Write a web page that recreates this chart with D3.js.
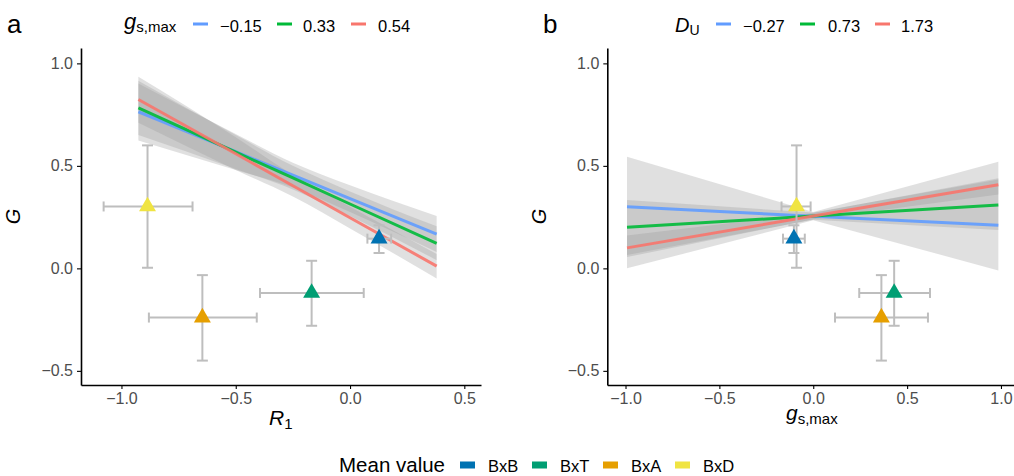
<!DOCTYPE html>
<html lang="en">
<head>
    <meta charset="UTF-8">
    <title>G vs R1 and gs,max</title>
    <script src="https://d3js.org/d3.v7.min.js"></script>
    <style>
        body {
            margin: 0;
            background: white;
            font-family: "Liberation Sans", Arial, Helvetica, sans-serif;
        }
    </style>
</head>
<body>
<div id="chart"></div>
<script>
    // Fitted lines (panel a: G vs R1 for three gs,max levels)
    const aLevels = ["\u22120.15", "0.33", "0.54"];
    const aGrid = [-0.926, -0.5, -0.25, 0, 0.379];
    const aFit = [
        [0.764, 0.569, 0.455, 0.340, 0.167],
        [0.783, 0.567, 0.441, 0.314, 0.122],
        [0.824, 0.559, 0.403, 0.247, 0.011]
    ];
    const aLo = [
        [0.624, 0.480, 0.395, 0.275, 0.080],
        [0.650, 0.485, 0.385, 0.255, 0.040],
        [0.710, 0.480, 0.350, 0.195, -0.049]
    ];
    const aHi = [
        [0.902, 0.655, 0.515, 0.405, 0.255],
        [0.915, 0.650, 0.500, 0.375, 0.205],
        [0.935, 0.640, 0.455, 0.300, 0.070]
    ];

    // Fitted lines (panel b: G vs gs,max for three DU levels)
    const bLevels = ["\u22120.27", "0.73", "1.73"];
    const bGrid = [-0.992, 0, 0.986];
    const bFit = [
        [0.300, 0.254, 0.210],
        [0.200, 0.255, 0.309],
        [0.100, 0.255, 0.408]
    ];
    const bLo = [
        [0.000, 0.235, -0.010],
        [0.065, 0.237, 0.187],
        [0.055, 0.240, 0.360]
    ];
    const bHi = [
        [0.545, 0.275, 0.520],
        [0.333, 0.272, 0.434],
        [0.160, 0.270, 0.440]
    ];

    const lineColors = ["#619CFF", "#00BA38", "#F8766D"];

    // Mean values per cross
    const crosses = ["BxB", "BxT", "BxA", "BxD"];
    const crossColors = ["#0072B2", "#009E73", "#E69F00", "#F0E442"];
    const meanG = [0.145, -0.12, -0.24, 0.302];
    const gLo = [0.075, -0.28, -0.45, 0.003];
    const gHi = [0.21, 0.037, -0.033, 0.6];
    const meanR1 = [0.127, -0.168, -0.646, -0.886];
    const r1Lo = [0.076, -0.394, -0.88, -1.078];
    const r1Hi = [0.18, 0.06, -0.408, -0.689];
    const meanGs = [-0.103, 0.431, 0.363, -0.089];
    const gsLo = [-0.161, 0.245, 0.116, -0.169];
    const gsHi = [-0.045, 0.622, 0.611, -0.014];

    const yTicks = [-0.5, 0, 0.5, 1.0];

    const svg = d3.select("#chart")
        .append("svg")
        .attr("width", 1014)
        .attr("height", 476)
        .style("font-family", "'Liberation Sans', Arial, Helvetica, sans-serif");

    const plotTop = 48, plotBottom = 385;
    const y = d3.scaleLinear().domain([-0.569, 1.075]).range([plotBottom, plotTop]);

    function drawPanel(opts) {
        const x = d3.scaleLinear().domain(opts.xDomain).range(opts.xRange);
        const g = svg.append("g");

        // confidence bands
        opts.fit.forEach((fit, i) => {
            const pts = opts.grid.map((gx, j) => ({ x: gx, lo: opts.lo[i][j], hi: opts.hi[i][j] }));
            g.append("path")
                .datum(pts)
                .attr("d", d3.area().curve(opts.curve).x(d => x(d.x)).y0(d => y(d.lo)).y1(d => y(d.hi)))
                .attr("fill", "#999999")
                .attr("fill-opacity", 0.3);
        });

        // fitted lines
        opts.fit.forEach((fit, i) => {
            g.append("path")
                .datum(opts.grid.map((gx, j) => [gx, fit[j]]))
                .attr("d", d3.line().x(d => x(d[0])).y(d => y(d[1])))
                .attr("fill", "none")
                .attr("stroke", lineColors[i])
                .attr("stroke-width", 3)
                .attr("stroke-opacity", 0.9);
        });

        // error bars
        const eb = g.append("g").attr("stroke", "#bebebe").attr("stroke-width", 2).attr("fill", "none");
        crosses.forEach((c, i) => {
            const cx = x(opts.mx[i]), cy = y(meanG[i]);
            eb.append("line").attr("x1", cx).attr("x2", cx).attr("y1", y(gLo[i])).attr("y2", y(gHi[i]));
            eb.append("line").attr("x1", cx - 5.5).attr("x2", cx + 5.5).attr("y1", y(gLo[i])).attr("y2", y(gLo[i]));
            eb.append("line").attr("x1", cx - 5.5).attr("x2", cx + 5.5).attr("y1", y(gHi[i])).attr("y2", y(gHi[i]));
            eb.append("line").attr("x1", x(opts.xLo[i])).attr("x2", x(opts.xHi[i])).attr("y1", cy).attr("y2", cy);
            eb.append("line").attr("x1", x(opts.xLo[i])).attr("x2", x(opts.xLo[i])).attr("y1", cy - 5).attr("y2", cy + 5);
            eb.append("line").attr("x1", x(opts.xHi[i])).attr("x2", x(opts.xHi[i])).attr("y1", cy - 5).attr("y2", cy + 5);
        });

        // mean points
        g.selectAll(".pt")
            .data(crosses)
            .enter()
            .append("path")
            .attr("d", d3.symbol(d3.symbolTriangle).size(125))
            .attr("transform", (d, i) => `translate(${x(opts.mx[i])},${y(meanG[i])})`)
            .attr("fill", (d, i) => crossColors[i]);

        // axes
        const xAxis = g.append("g")
            .attr("transform", `translate(0,${plotBottom})`)
            .call(d3.axisBottom(x).tickValues(opts.xTicks).tickFormat(d3.format(".1f")).tickSize(4).tickSizeOuter(0).tickPadding(4));
        const yAxis = g.append("g")
            .attr("transform", `translate(${opts.xRange[0]},0)`)
            .call(d3.axisLeft(y).tickValues(yTicks).tickFormat(d3.format(".1f")).tickSize(4).tickSizeOuter(0).tickPadding(4));
        [xAxis, yAxis].forEach(ax => {
            ax.select(".domain").attr("stroke", "black").attr("stroke-width", 1.6);
            ax.selectAll(".tick line").attr("stroke", "black").attr("stroke-width", 1.1);
            ax.selectAll(".tick text").attr("font-size", 16).attr("fill", "#4d4d4d").attr("font-family", null);
        });

        // y title
        g.append("text")
            .attr("transform", `translate(${opts.xRange[0] - 61},${(plotTop + plotBottom) / 2}) rotate(-90)`)
            .attr("text-anchor", "middle")
            .attr("font-size", 20)
            .attr("font-style", "italic")
            .text("G");

        // panel letter
        g.append("text")
            .attr("x", opts.letterX)
            .attr("y", 33)
            .attr("font-size", 26)
            .text(opts.letter);

        return x;
    }

    drawPanel({
        xDomain: [-1.177, 0.573], xRange: [81, 481], xTicks: [-1.0, -0.5, 0, 0.5],
        grid: aGrid, fit: aFit, lo: aLo, hi: aHi, curve: d3.curveMonotoneX,
        mx: meanR1, xLo: r1Lo, xHi: r1Hi, letter: "a", letterX: 7
    });
    drawPanel({
        xDomain: [-1.097, 1.104], xRange: [607.3, 1020.5], xTicks: [-1.0, -0.5, 0, 0.5, 1.0],
        grid: bGrid, fit: bFit, lo: bLo, hi: bHi, curve: d3.curveLinear,
        mx: meanGs, xLo: gsLo, xHi: gsHi, letter: "b", letterX: 543
    });

    // x titles
    const xt1 = svg.append("text").attr("x", 269).attr("y", 425).attr("font-size", 21).attr("font-style", "italic");
    xt1.append("tspan").text("R");
    xt1.append("tspan").attr("font-size", 15).attr("font-style", "normal").attr("dy", 4).text("1");

    const xt2 = svg.append("text").attr("x", 786).attr("y", 420).attr("font-size", 21);
    xt2.append("tspan").attr("font-style", "italic").text("g");
    xt2.append("tspan").attr("font-size", 15).attr("dy", 4).text("s,max");

    // top legends
    function topLegend(build, labels, positions) {
        const lg = svg.append("g");
        build(lg);
        labels.forEach((lab, i) => {
            lg.append("rect")
                .attr("x", positions[i][0]).attr("y", 22.5)
                .attr("width", 15).attr("height", 3)
                .attr("fill", lineColors[i]);
            lg.append("text")
                .attr("x", positions[i][1]).attr("y", 31.5)
                .attr("font-size", 16.5)
                .text(lab);
        });
    }

    topLegend(lg => {
        const t = lg.append("text").attr("x", 124).attr("y", 29).attr("font-size", 22);
        t.append("tspan").attr("font-style", "italic").text("g");
        t.append("tspan").attr("font-size", 15).attr("dy", 3).text("s,max");
    }, aLevels, [[193, 220], [277, 303], [351, 378]]);

    topLegend(lg => {
        const t = lg.append("text").attr("x", 675).attr("y", 32).attr("font-size", 20).attr("font-style", "italic");
        t.append("tspan").text("D");
        t.append("tspan").attr("font-size", 14).attr("font-style", "normal").attr("dy", 3).text("U");
    }, bLevels, [[716, 743], [800, 828], [875, 901]]);

    // bottom legend
    const bl = svg.append("g");
    bl.append("text").attr("x", 339).attr("y", 471.5).attr("font-size", 20.5).text("Mean value");
    const keyX = [460, 532, 603, 675];
    const labX = [488, 560, 631, 703];
    crosses.forEach((c, i) => {
        bl.append("rect").attr("x", keyX[i]).attr("y", 461.5).attr("width", 15).attr("height", 7).attr("fill", crossColors[i]);
        bl.append("text").attr("x", labX[i]).attr("y", 471.5).attr("font-size", 16.5).text(c);
    });
</script>
</body>
</html>
